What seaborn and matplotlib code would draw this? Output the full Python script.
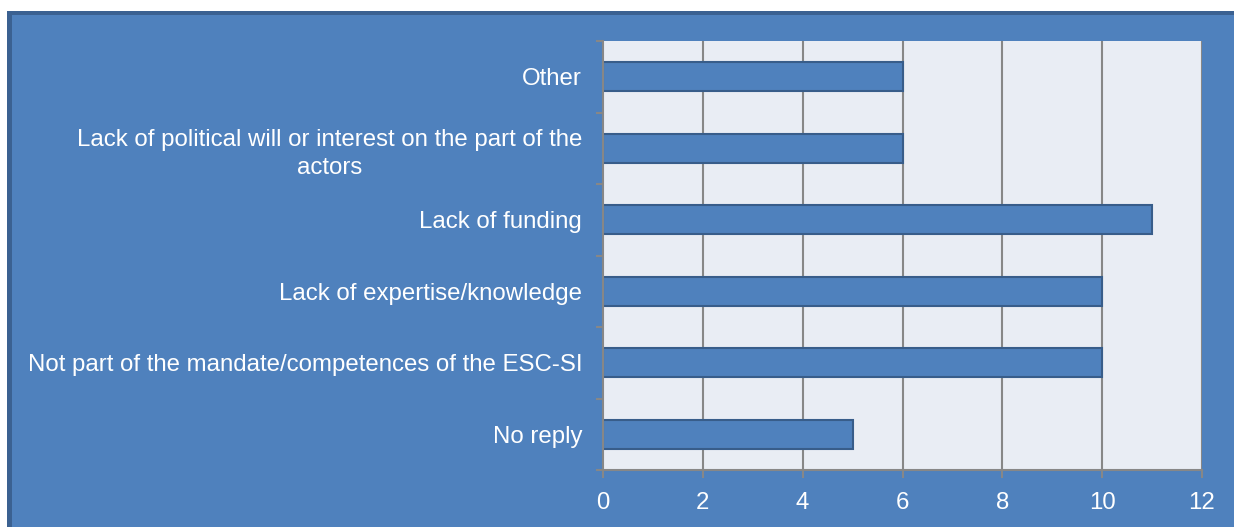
import matplotlib
matplotlib.use("Agg")
import matplotlib.pyplot as plt
from matplotlib.patches import Rectangle
import seaborn as sns
import pandas as pd

categories = [
    "Other",
    "Lack of political will or interest on the part of the\nactors",
    "Lack of funding",
    "Lack of expertise/knowledge",
    "Not part of the mandate/competences of the ESC-SI",
    "No reply",
]
counts = [6, 6, 11, 10, 10, 5]
x_ticks = [0, 2, 4, 6, 8, 10, 12]

BLUE = "#4F81BD"
BORDER = "#3B6191"
PLOT_BG = "#E9EDF4"
GRID = "#878787"
EDGE = "#385D8A"

plt.rcParams["font.family"] = ["Liberation Sans", "DejaVu Sans"]

W, H = 1234, 527
fig = plt.figure(figsize=(W / 100, H / 100), dpi=100, facecolor="white")

# Chart frame: blue panel with a darker rim on top and left
fig.patches.append(Rectangle((7 / W, 0), 1 - 7 / W, (H - 11) / H,
                             transform=fig.transFigure, facecolor=BLUE,
                             edgecolor="none", zorder=-3))
fig.patches.append(Rectangle((7 / W, (H - 15) / H), 1 - 7 / W, 4 / H,
                             transform=fig.transFigure, facecolor=BORDER,
                             edgecolor="none", zorder=-2))
fig.patches.append(Rectangle((7 / W, 0), 5 / W, (H - 11) / H,
                             transform=fig.transFigure, facecolor=BORDER,
                             edgecolor="none", zorder=-2))

ax = fig.add_axes([603 / W, 1 - 470 / H, (1202 - 603) / W, (470 - 41) / H])
ax.set_facecolor(PLOT_BG)

df = pd.DataFrame({"reason": categories, "count": counts})
sns.barplot(data=df, x="count", y="reason", orient="h", order=categories,
            color=BLUE, saturation=1, width=0.41, edgecolor=EDGE,
            linewidth=1.5, ax=ax, zorder=3)

ax.set_xlim(0, 12)
ax.set_ylim(len(categories) - 0.5, -0.5)
ax.set_xticks(x_ticks)
ax.set_xticklabels([str(t) for t in x_ticks])
ax.set_xlabel("")
ax.set_ylabel("")

# Vertical gridlines
ax.grid(False)
for t in x_ticks[1:]:
    ax.axvline(t, color=GRID, linewidth=1.5, zorder=1)
ax.set_axisbelow(True)

for side in ["top", "right"]:
    ax.spines[side].set_visible(False)
for side in ["left", "bottom"]:
    ax.spines[side].set_color(GRID)
    ax.spines[side].set_linewidth(1.5)
    ax.spines[side].set_zorder(4)

# Category tick marks sit on the boundaries between bars
ax.set_yticks([i - 0.5 for i in range(len(categories) + 1)], minor=True)
ax.tick_params(axis="y", which="minor", length=5, width=1.5, color=GRID,
               direction="out")
ax.tick_params(axis="y", which="major", length=0, pad=15, labelsize=17.3,
               labelcolor="white")
ax.tick_params(axis="x", which="major", length=6, width=1.5, color=GRID,
               direction="out", pad=10, labelsize=17.3, labelcolor="white")

for lbl in ax.get_yticklabels():
    lbl.set_multialignment("center")
    lbl.set_linespacing(1.35)

fig.savefig("out.png", dpi=100, facecolor="white")
